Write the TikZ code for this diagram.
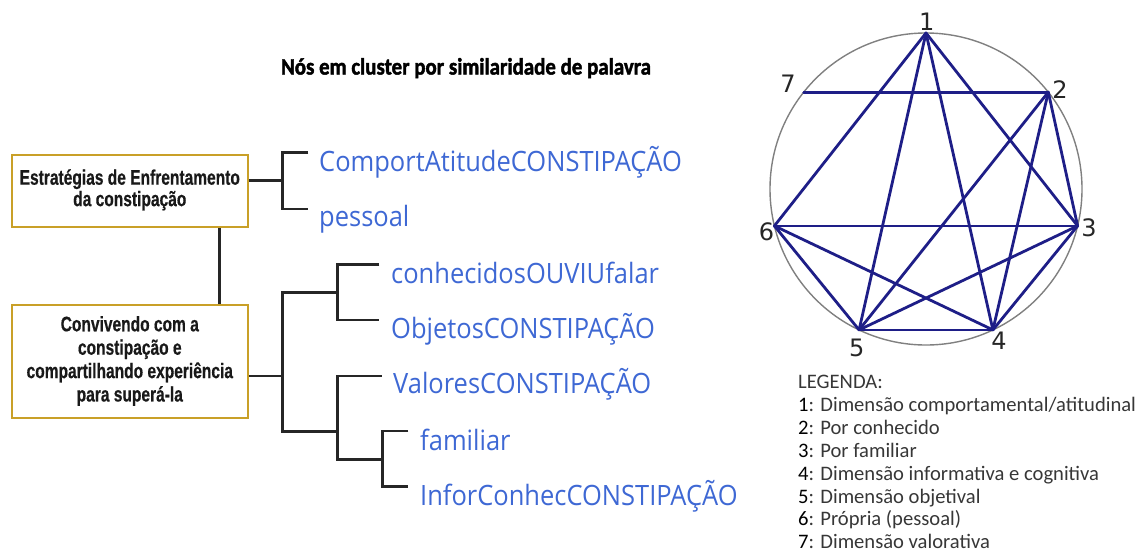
\documentclass[tikz,border=0pt]{standalone}
\usepackage{fontspec}
\usepackage{graphicx}
\newfontfamily\leaffont{Open Sans}
\newfontfamily\legendfont{Carlito}
\newfontfamily\titlefont{Carlito}[BoldFeatures={FakeBold=2}]
\newfontfamily\boxfont{Liberation Sans}[BoldFeatures={FakeBold=0.6}]
\newfontfamily\digitfont{DejaVu Sans}
\definecolor{leafblue}{RGB}{62,104,212}
\definecolor{boxgold}{RGB}{201,160,40}
\definecolor{edgenavy}{RGB}{30,30,135}
\definecolor{legendgray}{RGB}{55,55,55}
\newcommand\squish[2]{\scalebox{#1}[1]{#2}}
\newcommand\leaftext[1]{\squish{0.91}{#1}}
\begin{document}
\begin{tikzpicture}[x=1pt,y=-1pt,
  clusterbox/.style={draw=boxgold, line width=2.2pt, fill=white, inner sep=0pt,
    minimum width=236pt, font=\boxfont\bfseries, text=black!90},
  leaf/.style={anchor=base west, text=leafblue, inner sep=0pt,
    font=\leaffont\fontsize{28}{33}\selectfont},
  tree/.style={draw=black!85, line width=2.8pt},
  edge/.style={draw=edgenavy, line width=2.8pt, line cap=round},
  vnum/.style={font=\digitfont\fontsize{24}{28}\selectfont, text=black!85, inner sep=0pt},
  legline/.style={anchor=base west, inner sep=0pt, text=legendgray,
    font=\legendfont\fontsize{20.6}{24}\selectfont},
]
\useasboundingbox (0,0) rectangle (1141,552);

% title
\node[anchor=base, inner sep=0pt, font=\titlefont\bfseries\fontsize{23.5}{28}\selectfont]
  (title) at (466,74.5) {\squish{0.89}{Nós em cluster por similaridade de palavra}};

% cluster boxes
\node[clusterbox, minimum height=71.7pt] (b1) at (129.8,190.8)
  {\squish{0.74}{\fontsize{21}{20.7}\selectfont\begin{tabular}{@{}c@{}}Estratégias de Enfrentamento\\da constipação\end{tabular}}};
\node[clusterbox, minimum height=113.3pt] (b2) at (129.8,361.7)
  {\squish{0.74}{\fontsize{21}{23.4}\selectfont\begin{tabular}{@{}c@{}}Convivendo com a\\constipação e\\compartilhando experiência\\para superá-la\end{tabular}}};

% leaves
\node[leaf] (l1) at (319,171.3) {\leaftext{ComportAtitudeCONSTIPAÇÃO}};
\node[leaf] (l2) at (319,226.7) {\leaftext{pessoal}};
\node[leaf] (l3) at (391,283.3) {\leaftext{conhecidosOUVIUfalar}};
\node[leaf] (l4) at (391,338.3) {\leaftext{ObjetosCONSTIPAÇÃO}};
\node[leaf] (l5) at (393,393.3) {\leaftext{ValoresCONSTIPAÇÃO}};
\node[leaf] (l6) at (420,450) {\leaftext{familiar}};
\node[leaf] (l7) at (420,505) {\leaftext{InforConhecCONSTIPAÇÃO}};

% dendrogram joints and branch tips
\coordinate (k1) at (282.7,180.7);
\coordinate (t1) at (308.3,152.7);
\coordinate (t2) at (308.3,209);
\coordinate (k2) at (282.7,376);
\coordinate (k3) at (337.3,292.7);
\coordinate (k4) at (337.7,431.7);
\coordinate (t3) at (379.3,264.3);
\coordinate (t4) at (379.3,320);
\coordinate (t5) at (381.7,376);
\coordinate (k5) at (382.7,459.3);
\coordinate (t6) at (408.3,431);
\coordinate (t7) at (408.3,486.7);

\draw[tree] (b1.east |- k1) -- (k1);
\draw[tree] (t1) -| (k1) |- (t2);
\draw[tree] ([xshift=90pt]b1.south) -- ([xshift=90pt]b2.north);
\draw[tree] (b2.east |- k2) -- (k2);
\draw[tree] (k3) -| (k2) |- (k4);
\draw[tree] (t3) -| (k3) |- (t4);
\draw[tree] (t5) -| (k4) |- (k5);
\draw[tree] (t6) -| (k5) |- (t7);

% relation graph
\coordinate (gc) at (926,189);
\draw[draw=black!50, line width=1.4pt] (gc) circle[radius=156pt];
\coordinate (p1) at (926,33);
\coordinate (p2) at (1048.3,92.1);
\coordinate (p3) at (1077.6,225.9);
\coordinate (p4) at (992.9,329.9);
\coordinate (p5) at (859.1,329.9);
\coordinate (p6) at (774.4,225.9);
\coordinate (p7) at (803.7,92.1);

\foreach \a/\b in {1/6,1/5,1/4,1/3,7/2,2/5,2/4,2/3,6/3,6/5,6/4,5/3,5/4,4/3}
  \draw[edge] (p\a) -- (p\b);

\node[vnum] (n1) at (926.7,21.5) {1};
\node[vnum] (n2) at (1060,90) {2};
\node[vnum] (n3) at (1089,227.5) {3};
\node[vnum] (n4) at (999,341) {4};
\node[vnum] (n5) at (856.7,347.5) {5};
\node[vnum] (n6) at (766.5,231.5) {6};
\node[vnum] (n7) at (788,84) {7};

% legend
\node[legline] (g0) at (798,388.5) {LEGENDA:};
\node[legline] (g1) at (798,411.4) {\textcolor{black}{1}: Dimensão comportamental/atitudinal};
\node[legline] (g2) at (798,434.3) {\textcolor{black}{2}: Por conhecido};
\node[legline] (g3) at (798,457.2) {\textcolor{black}{3}: Por familiar};
\node[legline] (g4) at (798,480.1) {\textcolor{black}{4}: Dimensão informativa e cognitiva};
\node[legline] (g5) at (798,503.0) {\textcolor{black}{5}: Dimensão objetival};
\node[legline] (g6) at (798,525.9) {\textcolor{black}{6}: Própria (pessoal)};
\node[legline] (g7) at (798,548.8) {\textcolor{black}{7}: Dimensão valorativa};
\end{tikzpicture}
\end{document}
